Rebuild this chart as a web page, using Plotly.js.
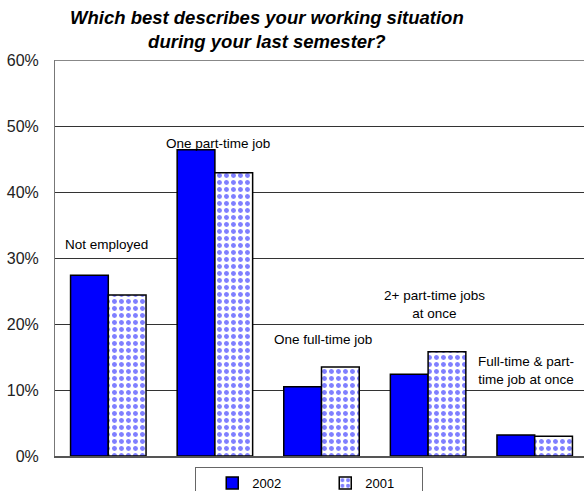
<!DOCTYPE html>
<html>
<head>
<meta charset="utf-8">
<script src="https://cdn.plot.ly/plotly-3.0.1.min.js"></script>
<style>html,body{margin:0;padding:0;background:#fff;overflow:hidden;}#chart{width:588px;height:491px;}</style>
</head>
<body>
<div id="chart"></div>
<script>
var categories = ["Not employed", "One part-time job", "One full-time job", "2+ part-time jobs at once", "Full-time & part-time job at once"];
var values2002 = [27.4, 46.4, 10.5, 12.4, 3.2];
var values2001 = [24.4, 42.9, 13.5, 15.8, 3.0];
var labelText = ["Not employed", "One part-time job", "One full-time job", "2+ part-time jobs<br>at once", "Full-time & part-<br>time job at once"];
var labelY = [32.0, 47.4, 17.6, 22.9, 12.9];
var labelXShift = [-2, 3, 1, 6, -9];
var tickVals = [0, 10, 20, 30, 40, 50, 60];
var tickText = ["0%", "10%", "20%", "30%", "40%", "50%", "60%"];
var titleText = "<b><i>Which best describes your working situation<br>during your last semester?</i></b>";

var font = "Liberation Sans, Arial, sans-serif";

var traces = [
  {type: "bar", name: "2002", x: categories, y: values2002,
   marker: {color: "#0000ff", line: {color: "#000", width: 1.5}}},
  {type: "bar", name: "2001", x: categories, y: values2001,
   marker: {color: "#ffffff", line: {color: "#000", width: 1.5},
            pattern: {shape: ".", fgcolor: "#0000ff", bgcolor: "#ffffff", size: 7, solidity: 0.4, fillmode: "overlay"}}}
];

var annotations = categories.map(function(c, i){
  return {x: c, y: labelY[i], xref: "x", yref: "y", text: labelText[i], showarrow: false,
          xshift: labelXShift[i], font: {family: font, size: 13.5, color: "#000"}, align: "center"};
});
annotations.push({x: 0.397, y: 1, xref: "paper", yref: "paper", xanchor: "center", yanchor: "bottom", yshift: 6,
  text: titleText, showarrow: false, align: "center", font: {family: font, size: 18.5, color: "#000"}});

var layout = {
  width: 588, height: 491,
  margin: {l: 55, r: 0, t: 60, b: 35, pad: 0, autoexpand: false},
  paper_bgcolor: "#fff", plot_bgcolor: "#fff",
  barmode: "group", bargap: 0.292, bargroupgap: 0,
  showlegend: true,
  legend: {orientation: "h", x: 0.477, xanchor: "center", y: -0.028, yanchor: "top",
           bordercolor: "#666", borderwidth: 1, bgcolor: "#fff", indentation: 16,
           font: {family: font, size: 13, color: "#000"}, entrywidth: 52, itemwidth: 30},
  xaxis: {showticklabels: false, showgrid: false, showline: true, linecolor: "#555", linewidth: 1.5,
          ticks: "", zeroline: false, fixedrange: true},
  yaxis: {range: [0, 60], tickvals: tickVals, ticktext: tickText, showgrid: true, gridcolor: "#333", gridwidth: 1,
          showline: true, linecolor: "#777", linewidth: 1, ticks: "", ticklabelstandoff: 12,
          tickfont: {family: font, size: 16, color: "#222"}, zeroline: false},
  shapes: [{type: "line", xref: "paper", yref: "y", x0: 0, x1: 1, y0: 60, y1: 60, line: {color: "#888", width: 2}}],
  annotations: annotations
};

Plotly.newPlot("chart", traces, layout, {displayModeBar: false, staticPlot: true});
</script>
</body>
</html>
